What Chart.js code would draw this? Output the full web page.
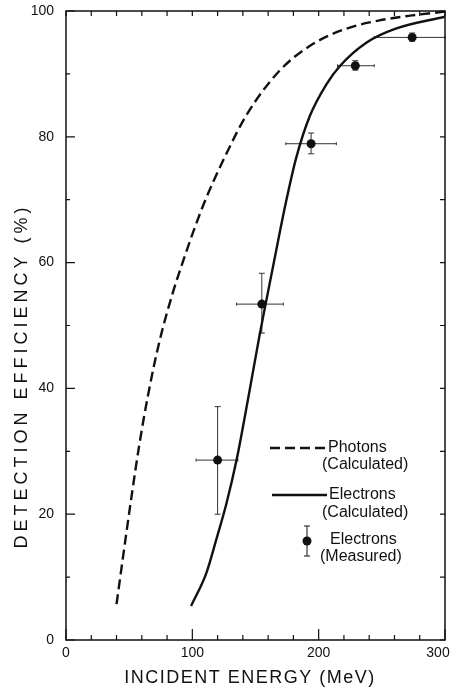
<!DOCTYPE html>
<html>
<head>
<meta charset="utf-8">
<script src="https://cdn.jsdelivr.net/npm/chart.js@4.4.1/dist/chart.umd.min.js"></script>
<style>
  html, body { margin: 0; padding: 0; background: #fff; }
  #wrap { width: 452px; height: 688px; }
</style>
</head>
<body>
<div id="wrap"><canvas id="chart"></canvas></div>
<script>
// curves
const photonEnergy = [40, 45, 52, 58, 65, 74, 85, 94, 100, 110, 125, 143, 169, 195, 222, 248, 274, 300];
const photonEff    = [5.7, 13, 23, 31, 39, 47.5, 55.5, 61, 64.5, 69.8, 76.5, 83.5, 90.5, 94.7, 97.2, 98.5, 99.3, 99.9];

const electronEnergy = [99, 111, 119, 127, 135, 144, 153, 158, 164, 174, 182, 193, 206, 217, 238, 261, 300];
const electronEff    = [5.4, 10.6, 16, 21.7, 28.6, 38.2, 48.2, 53.4, 59.5, 69.5, 76.5, 83.3, 88.3, 91.3, 95, 97.2, 99.1];

// measured electrons with error bars
const measEnergy = [120, 155, 194, 229, 274];
const measEff    = [28.6, 53.4, 78.9, 91.3, 95.8];
const measELo    = [103, 135, 174, 215, 244];
const measEHi    = [136, 172, 214, 244, 300];
const measEffLo  = [20.0, 48.8, 77.3, 90.6, 95.2];
const measEffHi  = [37.1, 58.3, 80.6, 92.1, 96.5];

const xTickLabels = ['0', '100', '200', '300'];
const yTickLabels = ['0', '20', '40', '60', '80', '100'];

const INK = '#111';
const FONT = '"Liberation Sans", Arial, sans-serif';

const toPoints = (xs, ys) => xs.map((x, i) => ({ x, y: ys[i] }));

// box with inward ticks on all four sides, plus the axis titles
const frameTicks = {
  id: 'frameTicks',
  afterDraw(chart) {
    const { ctx, chartArea: a, scales: { x, y } } = chart;
    ctx.save();
    ctx.strokeStyle = INK;
    ctx.lineWidth = 1.5;
    ctx.strokeRect(a.left, a.top, a.right - a.left, a.bottom - a.top);
    ctx.lineWidth = 1.2;
    ctx.beginPath();
    for (let v = 0; v <= 300; v += 20) {
      const px = x.getPixelForValue(v);
      const len = v % 100 === 0 ? 11 : 5;
      ctx.moveTo(px, a.bottom); ctx.lineTo(px, a.bottom - len);
      ctx.moveTo(px, a.top); ctx.lineTo(px, a.top + 5);
    }
    for (let v = 0; v <= 100; v += 10) {
      const py = y.getPixelForValue(v);
      const len = v % 20 === 0 ? 9 : 4;
      ctx.moveTo(a.left, py); ctx.lineTo(a.left + len, py);
      ctx.moveTo(a.right, py); ctx.lineTo(a.right - 5, py);
    }
    ctx.stroke();

    ctx.fillStyle = INK;
    ctx.font = '18px ' + FONT;
    ctx.textAlign = 'center';
    ctx.textBaseline = 'middle';
    ctx.letterSpacing = '1.5px';
    ctx.fillText('INCIDENT ENERGY (MeV)', 250, 678);

    // y title sits lower than centre in the original
    ctx.letterSpacing = '4px';
    ctx.translate(22, 376);
    ctx.rotate(-Math.PI / 2);
    ctx.fillText('DETECTION EFFICIENCY (%)', 0, 0);
    ctx.restore();
  }
};

const errorBars = {
  id: 'errorBars',
  beforeDatasetsDraw(chart) {
    const { ctx, scales: { x, y } } = chart;
    ctx.save();
    ctx.strokeStyle = '#333';
    ctx.lineWidth = 1;
    ctx.beginPath();
    measEnergy.forEach((e, i) => {
      const px = x.getPixelForValue(e), py = y.getPixelForValue(measEff[i]);
      const x0 = x.getPixelForValue(measELo[i]), x1 = x.getPixelForValue(measEHi[i]);
      const y0 = y.getPixelForValue(measEffLo[i]), y1 = y.getPixelForValue(measEffHi[i]);
      ctx.moveTo(x0, py); ctx.lineTo(x1, py);
      ctx.moveTo(x0, py - 1.5); ctx.lineTo(x0, py + 1.5);
      ctx.moveTo(x1, py - 1.5); ctx.lineTo(x1, py + 1.5);
      ctx.moveTo(px, y0); ctx.lineTo(px, y1);
      ctx.moveTo(px - 3, y0); ctx.lineTo(px + 3, y0);
      ctx.moveTo(px - 3, y1); ctx.lineTo(px + 3, y1);
    });
    ctx.stroke();
    ctx.restore();
  }
};

const legendBox = {
  id: 'legendBox',
  afterDraw(chart) {
    const ctx = chart.ctx;
    ctx.save();
    ctx.strokeStyle = INK;
    ctx.fillStyle = INK;
    ctx.lineWidth = 2.4;
    ctx.setLineDash([10, 5]);
    ctx.beginPath(); ctx.moveTo(270, 448); ctx.lineTo(327, 448); ctx.stroke();
    ctx.setLineDash([]);
    ctx.beginPath(); ctx.moveTo(272, 495); ctx.lineTo(327, 495); ctx.stroke();

    ctx.lineWidth = 1;
    ctx.beginPath();
    ctx.moveTo(307, 526); ctx.lineTo(307, 556);
    ctx.moveTo(304, 526); ctx.lineTo(310, 526);
    ctx.moveTo(304, 556); ctx.lineTo(310, 556);
    ctx.stroke();
    ctx.beginPath(); ctx.arc(307, 541, 4.5, 0, Math.PI * 2); ctx.fill();

    ctx.font = '16px ' + FONT;
    ctx.textAlign = 'left';
    ctx.textBaseline = 'middle';
    ctx.fillText('Photons', 328, 448);
    ctx.fillText('(Calculated)', 322, 465);
    ctx.fillText('Electrons', 329, 495);
    ctx.fillText('(Calculated)', 322, 513);
    ctx.fillText('Electrons', 330, 540);
    ctx.fillText('(Measured)', 320, 557);
    ctx.restore();
  }
};

new Chart(document.getElementById('chart'), {
  type: 'scatter',
  data: {
    datasets: [
      {
        label: 'Photons (Calculated)',
        data: toPoints(photonEnergy, photonEff),
        showLine: true,
        borderColor: INK,
        borderWidth: 2.4,
        borderDash: [10, 5],
        pointRadius: 0,
        cubicInterpolationMode: 'monotone'
      },
      {
        label: 'Electrons (Calculated)',
        data: toPoints(electronEnergy, electronEff),
        showLine: true,
        borderColor: INK,
        borderWidth: 2.4,
        pointRadius: 0,
        cubicInterpolationMode: 'monotone'
      },
      {
        label: 'Electrons (Measured)',
        data: toPoints(measEnergy, measEff),
        showLine: false,
        pointRadius: 4.5,
        pointBackgroundColor: INK,
        pointBorderWidth: 0
      }
    ]
  },
  options: {
    responsive: true,
    maintainAspectRatio: false,
    animation: false,
    layout: { padding: { top: 11, right: 7, left: 0, bottom: 0 } },
    plugins: {
      legend: { display: false },
      tooltip: { enabled: false }
    },
    scales: {
      x: {
        type: 'linear',
        min: 0, max: 300,
        grid: { display: false },
        border: { display: false },
        ticks: {
          stepSize: 100,
          padding: -3,
          color: INK,
          font: { family: FONT, size: 14 },
          maxRotation: 0,
          // last label sits a little left of its tick in the original
          callback: (v, i) => xTickLabels[i] + (i === xTickLabels.length - 1 ? '\u2002\u2002' : '')
        },
        afterFit(scale) { scale.height = 48; scale.paddingRight = 0; scale.paddingLeft = 0; }
      },
      y: {
        type: 'linear',
        min: 0, max: 100,
        grid: { display: false },
        border: { display: false },
        ticks: {
          stepSize: 20,
          padding: 4,
          color: INK,
          font: { family: FONT, size: 14 },
          callback: (v, i) => yTickLabels[i]
        },
        afterFit(scale) { scale.width = 66; scale.paddingTop = 0; scale.paddingBottom = 0; }
      }
    }
  },
  plugins: [errorBars, frameTicks, legendBox]
});
</script>
</body>
</html>
